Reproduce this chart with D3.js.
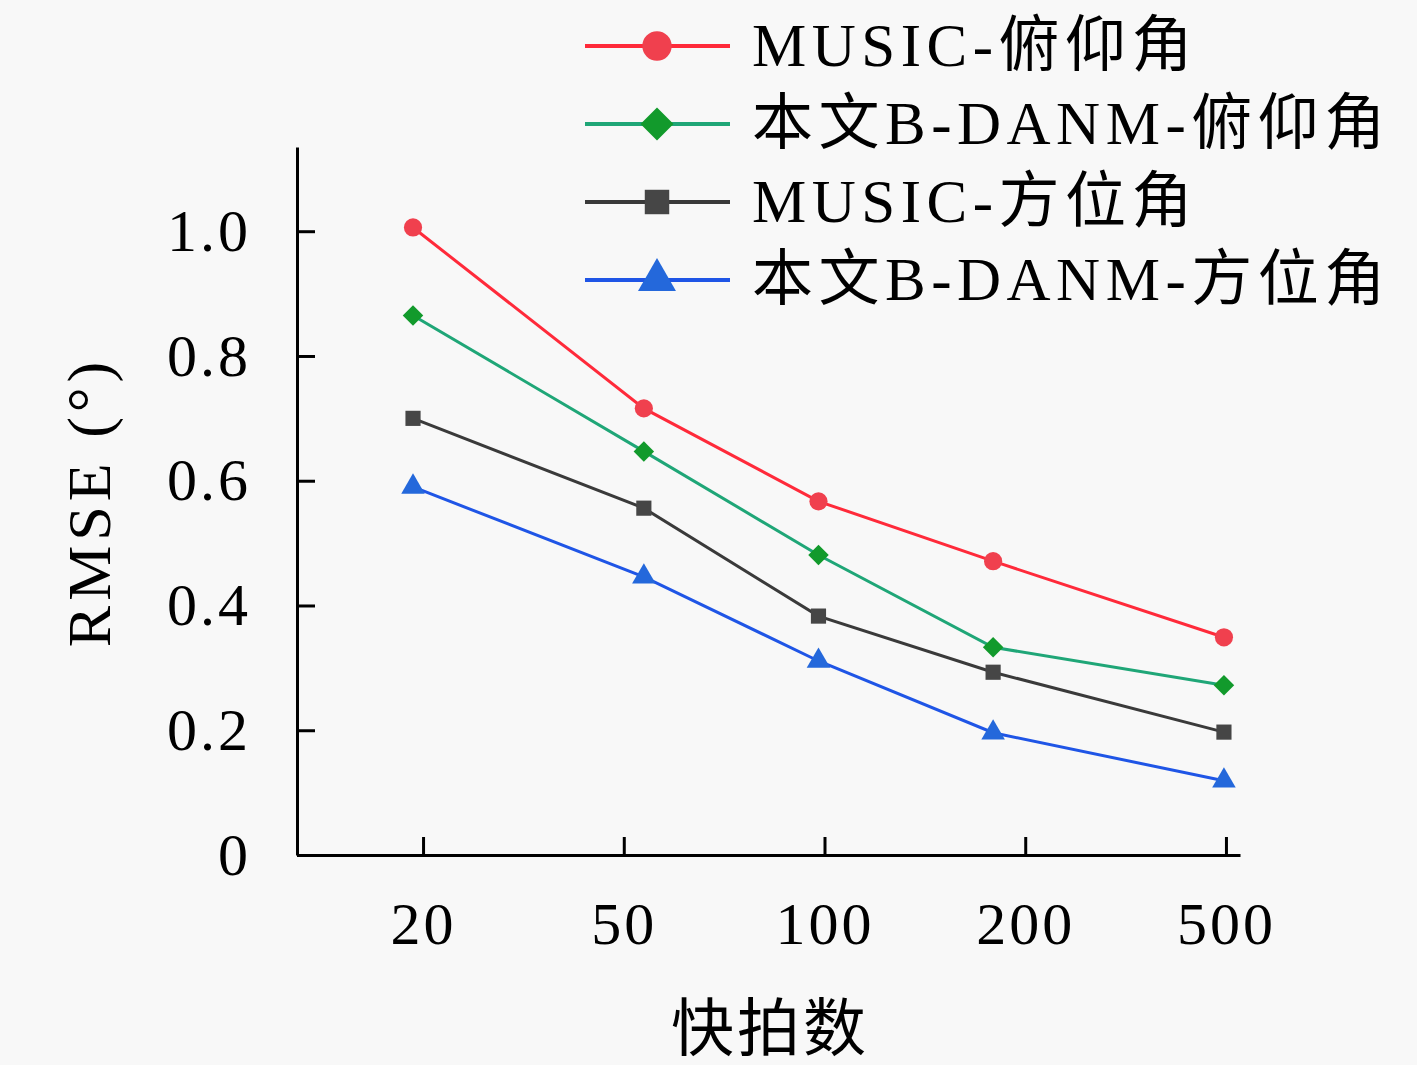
<!DOCTYPE html>
<html>
<head>
<meta charset="utf-8" />
<style type="text/css">
*{margin:0px;padding:0px;}
body{background:#f8f8f8;}
text{font-family:"Liberation Serif","Noto Sans CJK SC",serif;fill:#000;}
</style>
</head>
<body>
<script type="text/javascript" src="https://cdn.jsdelivr.net/npm/d3@7"></script>
<script type="text/javascript">
// x categories and where each point sits (in tick units)
var snapLabels = ["20", "50", "100", "200", "500"];
var pointPos = [-0.05, 1.10, 1.97, 2.84, 3.99];
var yTicks = [0, 0.2, 0.4, 0.6, 0.8, 1.0];

var musicElev = [1.006, 0.716, 0.567, 0.471, 0.349];
var danmElev = [0.865, 0.647, 0.481, 0.333, 0.272];
var musicAzim = [0.700, 0.556, 0.383, 0.293, 0.197];
var danmAzim = [0.590, 0.446, 0.311, 0.196, 0.119];

var seriesNames = ["MUSIC-俯仰角", "本文B-DANM-俯仰角", "MUSIC-方位角", "本文B-DANM-方位角"];

// diamond = square turned 45 degrees
var series = [
	{name: seriesNames[0], values: musicElev, line: "#ff2a3a", fill: "#f0404e", symbol: d3.symbolCircle, size: 260, rot: 0},
	{name: seriesNames[1], values: danmElev, line: "#1fa677", fill: "#129a2c", symbol: d3.symbolSquare, size: 210, rot: 45},
	{name: seriesNames[2], values: musicAzim, line: "#3a3a3a", fill: "#464646", symbol: d3.symbolSquare, size: 230, rot: 0},
	{name: seriesNames[3], values: danmAzim, line: "#1f55e6", fill: "#2468db", symbol: d3.symbolTriangle, size: 240, rot: 0}
];

var W = 1417, H = 1065;
var svg = d3.select("body").append("svg").attr("width", W).attr("height", H);

var x = d3.scaleLinear().domain([-0.628, 4.07]).range([297, 1240]);
var y = d3.scaleLinear().domain([0, 1.135]).range([855, 147]);

// axes, ticks point inward
var xAxis = d3.axisBottom(x).tickValues([0, 1, 2, 3, 4])
	.tickFormat(function(d){return snapLabels[d]})
	.tickSizeInner(-18).tickSizeOuter(0).tickPadding(46);
var yAxis = d3.axisLeft(y).tickValues(yTicks)
	.tickFormat(function(d){return d === 0 ? "0" : d3.format(".1f")(d)})
	.tickSizeInner(-18).tickSizeOuter(0).tickPadding(46);

var gx = svg.append("g").attr("transform", "translate(0,855)").call(xAxis);
var gy = svg.append("g").attr("transform", "translate(297,0)").call(yAxis);
[gx, gy].forEach(function(g){
	g.select(".domain").attr("stroke", "#000").attr("stroke-width", 3);
	g.selectAll(".tick line").attr("stroke", "#000").attr("stroke-width", 3);
	g.selectAll(".tick text").attr("font-size", 60).attr("font-family", "Liberation Serif")
		.attr("letter-spacing", 3).attr("fill", "#000");
});

svg.append("text").attr("x", 770).attr("y", 1050).attr("text-anchor", "middle")
	.attr("font-size", 63).attr("letter-spacing", 3).attr("font-family", "Noto Sans CJK SC").text("快拍数");
svg.append("text").attr("transform", "translate(110,502) rotate(-90)").attr("text-anchor", "middle")
	.attr("font-size", 62).attr("letter-spacing", 5).text("RMSE (°)");

var line = d3.line().x(function(d, i){return x(pointPos[i])}).y(function(d){return y(d)});

series.forEach(function(s){
	svg.append("path").datum(s.values).attr("d", line)
		.attr("fill", "none").attr("stroke", s.line).attr("stroke-width", 3);
	svg.selectAll(null).data(s.values).enter().append("path")
		.attr("transform", function(d, i){return "translate(" + x(pointPos[i]) + "," + y(d) + ") rotate(" + s.rot + ")"})
		.attr("d", d3.symbol().type(s.symbol).size(s.size))
		.attr("fill", s.fill);
});

// legend
var leg = svg.append("g");
series.forEach(function(s, i){
	var ly = 46 + i * 78;
	leg.append("line").attr("x1", 585).attr("x2", 730).attr("y1", ly).attr("y2", ly)
		.attr("stroke", s.line).attr("stroke-width", 4);
	leg.append("path").attr("transform", "translate(657," + ly + ") rotate(" + s.rot + ")")
		.attr("d", d3.symbol().type(s.symbol).size(s.size * 2.6)).attr("fill", s.fill);
	leg.append("text").attr("x", 752).attr("y", ly + 20).attr("font-size", 61)
		.attr("letter-spacing", 5.5).text(s.name);
});
</script>
</body>
</html>
